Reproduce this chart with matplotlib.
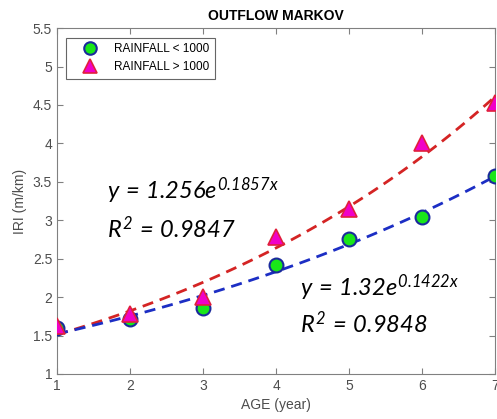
import numpy as np
import matplotlib
matplotlib.use("Agg")
from matplotlib import pyplot as plt

# dados
age = [1, 2, 3, 4, 5, 6, 7]
iri_low = [1.60, 1.72, 1.86, 2.42, 2.76, 3.04, 3.58]    # RAINFALL < 1000
iri_high = [1.62, 1.78, 2.00, 2.78, 3.14, 4.00, 4.52]   # RAINFALL > 1000

# coeficientes das curvas exponenciais (y = a*e^(b*x))
a_high, b_high, r2_high = 1.256, 0.1857, 0.9847
a_low, b_low, r2_low = 1.32, 0.1422, 0.9848

plt.rcParams['font.family'] = 'Liberation Sans'
plt.rcParams['mathtext.fontset'] = 'custom'
plt.rcParams['mathtext.it'] = 'Lato:italic'
plt.rcParams['mathtext.rm'] = 'Lato:italic'

fig = plt.figure(figsize=(4.97, 4.19), dpi=100)
ax = fig.add_axes([0.1147, 0.1074, 0.8813, 0.8256])

xs = np.linspace(1, 7, 100)
ax.plot(xs, a_high * np.exp(b_high * xs), '--', color='#d42424', lw=2, dashes=(4, 2.5), zorder=2)
ax.plot(xs, a_low * np.exp(b_low * xs), '--', color='#1c2ec4', lw=2, dashes=(4, 2.5), zorder=2)

ax.plot(age, iri_low, 'o', ms=10, mfc='#19e619', mec='#1a2a9c', mew=1.5,
        ls='none', label='RAINFALL < 1000', zorder=3)
ax.plot(age, iri_high, '^', ms=11, mfc='#f000c8', mec='#e0203c', mew=1.2,
        ls='none', label='RAINFALL > 1000', zorder=4)

ax.set_xlim(1, 7)
ax.set_ylim(1, 5.5)
ax.set_xticks(age)
ax.set_yticks(np.arange(1, 5.51, 0.5))
ax.set_yticklabels(['1', '1.5', '2', '2.5', '3', '3.5', '4', '4.5', '5', '5.5'])

for s in ax.spines.values():
    s.set_color('#808080')
ax.tick_params(direction='in', top=True, right=True, colors='#808080',
               labelcolor='#4d4d4d', labelsize=10, length=4)

ax.set_title('OUTFLOW MARKOV', fontsize=10, fontweight='bold', pad=6)
ax.set_xlabel('AGE (year)', fontsize=10, color='#4d4d4d', labelpad=4)
ax.set_ylabel('IRI (m/km)', fontsize=10, color='#4d4d4d', labelpad=4)

ax.text(1.68, 3.28, r'$y\,=\,%.3fe^{%.4fx}$' % (a_high, b_high), fontsize=17)
ax.text(1.68, 2.77, r'$R^{2}\,=\,%.4f$' % r2_high, fontsize=17)
ax.text(4.33, 2.02, r'$y\,=\,%.2fe^{%.4fx}$' % (a_low, b_low), fontsize=17)
ax.text(4.33, 1.54, r'$R^{2}\,=\,%.4f$' % r2_low, fontsize=17)

leg = ax.legend(loc='upper left', fontsize=8.5, frameon=True, fancybox=False,
                edgecolor='#404040', borderaxespad=0.8, handletextpad=0.5,
                handlelength=3.0, markerscale=0.9, borderpad=0.5)
leg.get_frame().set_linewidth(0.8)

fig.savefig('out.png', dpi=100)
